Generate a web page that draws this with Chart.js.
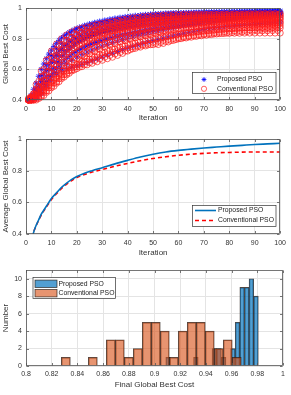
<!DOCTYPE html>
<html>
<head>
<meta charset="utf-8">
<script src="https://cdn.jsdelivr.net/npm/chart.js@4.4.1/dist/chart.umd.min.js"></script>
<style>
  html, body { margin: 0; padding: 0; background: #fff; }
  #wrap { position: relative; width: 291px; height: 395px; }
  #wrap canvas { position: absolute; left: 0; }
</style>
</head>
<body>
<div id="wrap">
  <canvas id="chartRuns" width="291" height="130" style="top:0"></canvas>
  <canvas id="chartAvg" width="291" height="130" style="top:130px"></canvas>
  <canvas id="chartHist" width="291" height="135" style="top:260px"></canvas>
</div>
<script>
// ---- data ----
// iterations at which the runs are sampled
const evenIters = [2,4,6,8,10,12,14,16,18,20,22,24,26,28,30,32,34,36,38,40,42,44,46,48,50,
                   52,54,56,58,60,62,64,66,68,70,72,74,76,78,80,82,84,86,88,90,92,94,96,98,100];
const oddIters = [1,3,5,7,9,11,13,15,17,19,21,23,25,27,29,31,33,35,37,39,41,43,45,47,49,
                  51,53,55,57,59,61,63,65,67,69,71,73,75,77,79,81,83,85,87,89,91,93,95,97,99];

// global best cost per run, proposed PSO (blue *), sampled at evenIters
const propRuns = [
  [.43,.51,.60,.67,.725,.77,.805,.83,.85,.865,.877,.888,.897,.905,.912,.919,.925,.931,.936,.941,.945,.949,.953,.956,.959,.961,.963,.965,.967,.968,.969,.970,.971,.972,.973,.974,.975,.975,.976,.977,.977,.978,.978,.979,.979,.980,.980,.980,.981,.981],
  [.41,.48,.56,.63,.69,.735,.77,.80,.822,.84,.855,.868,.879,.888,.896,.904,.911,.917,.923,.928,.933,.937,.941,.945,.948,.951,.954,.956,.958,.960,.962,.963,.965,.966,.967,.968,.969,.970,.971,.972,.973,.974,.974,.975,.976,.976,.977,.977,.978,.978],
  [.40,.45,.52,.59,.645,.69,.73,.76,.785,.805,.822,.836,.849,.86,.87,.879,.887,.894,.901,.907,.913,.918,.923,.927,.931,.935,.938,.941,.944,.946,.949,.951,.953,.955,.957,.959,.960,.962,.963,.964,.966,.967,.968,.969,.970,.971,.972,.973,.974,.975],
  [.42,.45,.50,.55,.60,.645,.685,.72,.748,.772,.792,.81,.825,.838,.85,.86,.869,.877,.885,.892,.898,.904,.909,.914,.919,.923,.927,.931,.934,.937,.94,.943,.945,.947,.949,.951,.953,.955,.957,.958,.96,.961,.963,.964,.965,.967,.968,.969,.971,.972],
  [.40,.43,.47,.52,.565,.605,.64,.672,.70,.72,.738,.753,.766,.777,.787,.796,.804,.812,.819,.826,.832,.838,.844,.85,.856,.861,.866,.871,.876,.881,.886,.891,.896,.901,.906,.911,.916,.921,.926,.931,.936,.94,.944,.948,.951,.954,.957,.96,.964,.968],
  [.41,.46,.53,.60,.66,.705,.74,.765,.785,.80,.812,.822,.831,.839,.846,.853,.859,.865,.87,.875,.88,.885,.889,.893,.897,.901,.905,.909,.912,.915,.918,.921,.924,.927,.93,.933,.936,.938,.94,.942,.944,.946,.948,.95,.952,.954,.956,.958,.961,.964],
  [.40,.42,.45,.49,.53,.57,.605,.635,.66,.68,.698,.714,.728,.741,.753,.764,.775,.785,.795,.804,.813,.822,.83,.838,.846,.853,.86,.866,.872,.878,.884,.889,.894,.899,.904,.908,.912,.916,.92,.924,.927,.93,.933,.936,.938,.94,.942,.944,.947,.95],
  [.40,.41,.44,.50,.555,.575,.59,.603,.614,.624,.634,.645,.657,.669,.681,.693,.705,.717,.729,.74,.75,.76,.77,.78,.788,.796,.804,.812,.82,.828,.836,.843,.849,.855,.861,.866,.871,.875,.879,.883,.886,.889,.892,.895,.898,.90,.902,.905,.908,.91]
];
// more proposed runs, sampled at oddIters
const propRunsOdd = [
  [.40,.47,.555,.635,.70,.75,.79,.82,.842,.86,.874,.886,.896,.905,.913,.92,.927,.933,.938,.943,.947,.951,.954,.957,.96,.962,.964,.966,.967,.968,.969,.97,.971,.972,.973,.974,.975,.975,.976,.976,.977,.977,.978,.978,.978,.979,.979,.979,.98,.98],
  [.41,.44,.50,.57,.63,.68,.72,.755,.784,.808,.828,.845,.859,.871,.882,.891,.899,.906,.912,.918,.923,.928,.932,.936,.94,.943,.946,.949,.951,.953,.955,.957,.959,.96,.962,.963,.964,.965,.966,.967,.968,.969,.97,.971,.972,.973,.974,.975,.975,.976],
  [.40,.42,.46,.51,.56,.61,.655,.695,.73,.758,.782,.802,.819,.834,.847,.858,.868,.877,.885,.892,.899,.905,.911,.916,.921,.925,.929,.933,.936,.939,.942,.945,.947,.949,.951,.953,.955,.957,.959,.961,.962,.964,.965,.966,.967,.968,.969,.97,.972,.973],
  [.40,.41,.44,.48,.53,.58,.62,.655,.685,.71,.73,.748,.763,.776,.788,.799,.809,.818,.826,.834,.841,.848,.855,.861,.867,.873,.878,.883,.888,.893,.898,.903,.908,.913,.918,.923,.928,.932,.936,.94,.944,.947,.95,.953,.956,.959,.962,.965,.968,.97],
  [.40,.43,.48,.54,.60,.65,.69,.722,.748,.768,.785,.799,.811,.822,.832,.841,.849,.856,.863,.869,.875,.88,.885,.89,.894,.898,.902,.906,.909,.912,.915,.918,.921,.924,.927,.929,.931,.933,.935,.937,.939,.941,.943,.945,.947,.949,.951,.953,.956,.958]
];

// global best cost per run, conventional PSO (red o), sampled at evenIters
const convRuns = [
  [.42,.50,.59,.66,.72,.765,.80,.825,.845,.86,.87,.878,.886,.894,.90,.907,.914,.92,.926,.932,.937,.941,.945,.948,.951,.953,.955,.957,.958,.959,.96,.96,.961,.961,.962,.962,.963,.963,.963,.964,.964,.964,.964,.965,.965,.965,.965,.965,.965,.965],
  [.41,.47,.55,.62,.68,.725,.76,.79,.81,.828,.842,.854,.864,.873,.881,.888,.895,.901,.907,.912,.917,.921,.925,.929,.932,.935,.938,.94,.942,.944,.946,.947,.948,.949,.95,.951,.952,.952,.953,.953,.954,.954,.954,.955,.955,.955,.955,.955,.955,.955],
  [.40,.45,.52,.58,.64,.69,.73,.76,.785,.805,.82,.833,.845,.855,.864,.872,.879,.885,.891,.896,.901,.905,.909,.913,.916,.919,.922,.925,.927,.929,.931,.933,.934,.936,.937,.938,.939,.94,.941,.942,.942,.943,.943,.944,.944,.944,.945,.945,.945,.945],
  [.42,.46,.51,.56,.61,.655,.695,.73,.755,.775,.792,.806,.818,.829,.839,.848,.856,.863,.87,.876,.881,.886,.891,.895,.899,.903,.906,.909,.912,.915,.917,.919,.921,.923,.924,.926,.927,.928,.929,.93,.931,.931,.932,.933,.933,.934,.934,.934,.935,.935],
  [.41,.44,.48,.53,.58,.625,.665,.70,.728,.75,.768,.783,.796,.807,.817,.826,.834,.842,.849,.855,.861,.866,.871,.876,.88,.884,.888,.891,.894,.897,.90,.902,.905,.907,.909,.911,.912,.914,.915,.916,.917,.918,.919,.92,.921,.922,.923,.924,.925,.925],
  [.40,.43,.47,.51,.55,.59,.625,.66,.69,.715,.736,.754,.77,.784,.796,.807,.817,.826,.834,.841,.848,.854,.86,.865,.869,.873,.877,.88,.883,.886,.888,.89,.892,.894,.896,.897,.899,.90,.901,.902,.903,.904,.905,.906,.907,.908,.908,.909,.909,.91],
  [.41,.43,.46,.49,.52,.555,.59,.62,.648,.672,.694,.713,.73,.745,.758,.77,.781,.791,.80,.808,.816,.823,.83,.836,.842,.847,.852,.857,.861,.865,.869,.872,.875,.878,.88,.883,.885,.887,.889,.89,.892,.893,.894,.895,.896,.897,.898,.899,.899,.90],
  [.40,.42,.45,.48,.51,.54,.565,.59,.612,.632,.65,.667,.683,.697,.71,.722,.733,.744,.754,.763,.772,.78,.788,.795,.802,.808,.814,.82,.825,.83,.835,.839,.843,.847,.851,.854,.857,.86,.863,.865,.868,.87,.872,.874,.876,.878,.88,.882,.884,.885],
  [.40,.41,.43,.46,.49,.52,.55,.575,.598,.618,.636,.652,.666,.679,.691,.702,.712,.722,.731,.74,.748,.756,.763,.77,.777,.784,.79,.796,.802,.808,.813,.818,.823,.828,.832,.836,.84,.843,.846,.849,.852,.854,.856,.858,.86,.862,.864,.866,.868,.87],
  [.40,.40,.42,.45,.48,.51,.54,.565,.59,.605,.618,.63,.64,.65,.66,.67,.68,.692,.705,.72,.735,.748,.757,.76,.762,.763,.77,.78,.79,.80,.807,.813,.818,.822,.826,.829,.832,.834,.835,.836,.837,.837,.838,.838,.838,.838,.838,.838,.838,.838]
];
// more conventional runs, sampled at oddIters
const convRunsOdd = [
  [.40,.44,.52,.60,.665,.715,.755,.787,.812,.832,.848,.861,.872,.881,.889,.896,.903,.909,.915,.92,.925,.929,.933,.937,.94,.943,.945,.947,.949,.951,.952,.953,.954,.955,.956,.957,.957,.958,.958,.959,.959,.959,.96,.96,.96,.96,.96,.96,.96,.96],
  [.40,.43,.49,.56,.62,.67,.712,.746,.774,.797,.815,.83,.843,.854,.864,.872,.88,.887,.893,.899,.904,.909,.913,.917,.921,.924,.927,.93,.932,.934,.936,.938,.94,.941,.942,.943,.944,.945,.946,.947,.947,.948,.948,.949,.949,.949,.95,.95,.95,.95],
  [.41,.44,.48,.53,.585,.635,.678,.713,.742,.766,.786,.803,.818,.831,.843,.853,.862,.87,.877,.884,.89,.895,.90,.905,.909,.913,.916,.919,.922,.925,.927,.929,.931,.932,.934,.935,.936,.937,.937,.938,.938,.939,.939,.939,.94,.94,.94,.94,.94,.94],
  [.40,.42,.46,.50,.55,.60,.645,.683,.714,.74,.762,.78,.796,.81,.822,.833,.843,.852,.86,.867,.874,.88,.886,.891,.895,.899,.903,.906,.909,.912,.914,.916,.918,.92,.921,.922,.923,.924,.925,.926,.927,.927,.928,.928,.929,.929,.929,.93,.93,.93],
  [.40,.42,.45,.49,.53,.57,.61,.645,.677,.705,.729,.749,.766,.781,.794,.806,.817,.827,.836,.844,.851,.857,.863,.868,.873,.877,.881,.885,.888,.891,.894,.897,.899,.901,.903,.905,.907,.908,.91,.911,.912,.913,.914,.915,.915,.916,.916,.917,.917,.918],
  [.40,.41,.44,.47,.50,.535,.57,.605,.636,.664,.688,.709,.727,.743,.757,.77,.782,.793,.803,.812,.82,.828,.835,.841,.847,.853,.858,.863,.867,.871,.875,.878,.881,.884,.887,.889,.891,.893,.895,.897,.898,.899,.90,.901,.902,.903,.903,.904,.904,.905],
  [.40,.41,.43,.46,.495,.53,.56,.59,.617,.642,.664,.684,.702,.718,.733,.747,.759,.77,.78,.789,.798,.806,.813,.82,.826,.832,.838,.843,.848,.852,.856,.86,.864,.867,.87,.873,.876,.878,.88,.882,.884,.886,.887,.888,.889,.89,.891,.891,.892,.892],
  [.40,.40,.42,.45,.48,.51,.54,.567,.592,.614,.634,.652,.668,.683,.697,.71,.722,.733,.743,.753,.762,.771,.779,.787,.794,.801,.808,.814,.82,.826,.831,.836,.841,.845,.849,.853,.856,.859,.862,.864,.866,.868,.87,.872,.873,.874,.875,.876,.877,.878],
  [.40,.40,.41,.43,.46,.49,.52,.55,.575,.597,.615,.63,.644,.657,.669,.68,.691,.701,.711,.72,.729,.738,.746,.754,.762,.769,.776,.783,.789,.795,.801,.806,.811,.816,.82,.824,.828,.832,.835,.838,.841,.843,.845,.847,.849,.851,.852,.853,.854,.855]
];

// average global best cost over the runs
const avgIters = [2,3,4,5,6,7,8,9,10,12,14,16,18,20,23,26,30,35,40,45,50,55,60,65,70,75,80,85,90,95,100];
const avgProposed = [.33,.41,.455,.49,.525,.55,.575,.60,.625,.66,.695,.722,.745,.763,.784,.80,.819,.843,.865,.886,.904,.918,.928,.936,.943,.949,.955,.96,.965,.969,.973];
const avgConventional = [.33,.41,.453,.487,.52,.546,.57,.594,.618,.654,.688,.715,.738,.756,.776,.791,.808,.828,.846,.863,.877,.888,.897,.904,.909,.913,.915,.917,.918,.918,.918];

// histogram of the final global best cost (bin centres and counts)
const propBins = [.9106,.9142,.9178,.9214,.925,.9286,.9322,.9358,.9394,.943,.9466,.9502,.9538,.9574,.961,.9646,.9682,.9718,.9754,.979];
const propCounts = [1,0,0,0,0,0,1,0,0,0,2,2,1,0,2,5,9,9,10,8];
const convBins = [.831,.838,.845,.852,.859,.866,.873,.880,.887,.894,.901,.908,.915,.922,.929,.936,.943,.950,.957,.964];
const convCounts = [1,0,0,1,0,3,3,1,2,5,5,4,1,4,5,5,4,2,3,1];

// tick labels
const iterTicks = [0,10,20,30,40,50,60,70,80,90,100];
const costTicks = [0.4,0.6,0.8,1];
const finalTicks = [0.8,0.82,0.84,0.86,0.88,0.9,0.92,0.94,0.96,0.98,1];
const numberTicks = [0,2,4,6,8,10];

// ---- styling helpers ----
const FONT = "'Liberation Sans', Arial, Helvetica, sans-serif";
const GRID = '#e4e4e4';
const TXT = '#333';
Chart.defaults.animation = false;
Chart.defaults.font.family = FONT;
Chart.defaults.color = TXT;

const fmt = v => String(Math.round(v * 1000) / 1000);

function xAxis(min, max, ticks, title, height, tickPad, titlePad, show = true) {
  return {
    type: 'linear', min, max, offset: false, display: show,
    grid: { color: GRID, drawTicks: false, offset: false },
    border: { display: false },
    ticks: { font: { size: 7 }, color: TXT, padding: tickPad, maxRotation: 0, autoSkip: false, callback: fmt },
    title: { display: true, text: title, color: TXT, font: { size: 8 }, padding: { top: 0, bottom: titlePad } },
    afterBuildTicks: s => { s.ticks = ticks.map(v => ({ value: v })); },
    afterFit: s => { s.height = height; }
  };
}

function yAxis(min, max, ticks, title) {
  return {
    type: 'linear', min, max,
    grid: { color: GRID, drawTicks: false },
    border: { display: false },
    ticks: { font: { size: 7 }, color: TXT, padding: 4, callback: fmt },
    title: { display: true, text: title, color: TXT, font: { size: 8 }, padding: { top: 1, bottom: 0 } },
    afterBuildTicks: s => { s.ticks = ticks.map(v => ({ value: v })); },
    afterFit: s => { s.width = 26; }
  };
}

// MATLAB-like axes box with inward tick marks
const frame = {
  id: 'frame',
  afterDatasetsDraw(chart) {
    const { ctx, chartArea: a, scales } = chart;
    const L = Math.round(a.left) + 0.5, R = Math.round(a.right) - 0.5;
    const T = Math.round(a.top) + 0.5, B = Math.round(a.bottom) - 0.5;
    ctx.save();
    ctx.strokeStyle = '#555';
    ctx.lineWidth = 0.8;
    ctx.beginPath();
    scales.x.ticks.forEach(t => {
      const px = Math.round(scales.x.getPixelForValue(t.value)) + 0.5;
      ctx.moveTo(px, B); ctx.lineTo(px, B - 2.5);
      ctx.moveTo(px, T); ctx.lineTo(px, T + 2.5);
    });
    scales.y.ticks.forEach(t => {
      const py = Math.round(scales.y.getPixelForValue(t.value)) + 0.5;
      ctx.moveTo(L, py); ctx.lineTo(L + 2.5, py);
      ctx.moveTo(R, py); ctx.lineTo(R - 2.5, py);
    });
    ctx.stroke();
    ctx.strokeRect(L, T, R - L, B - T);
    ctx.restore();
  }
};

// boxed legend placed inside the axes, like MATLAB's
const boxLegend = {
  id: 'boxLegend',
  afterDraw(chart, args, o) {
    if (!o.items) return;
    const ctx = chart.ctx;
    ctx.save();
    ctx.fillStyle = '#fff';
    ctx.fillRect(o.x, o.y, o.w, o.h);
    ctx.strokeStyle = '#333';
    ctx.lineWidth = 0.7;
    ctx.strokeRect(o.x, o.y, o.w, o.h);
    o.items.forEach((it, i) => {
      const ds = chart.data.datasets[it.ds];
      const y = o.rows[i];
      ctx.setLineDash([]);
      if (it.kind === 'star') {
        ctx.strokeStyle = ds.pointBorderColor;
        ctx.lineWidth = ds.pointBorderWidth;
        ctx.beginPath();
        for (let k = 0; k < 4; k++) {
          const c = Math.cos(k * Math.PI / 4) * 2.4, s = Math.sin(k * Math.PI / 4) * 2.4;
          ctx.moveTo(o.mx - c, y - s); ctx.lineTo(o.mx + c, y + s);
        }
        ctx.stroke();
      } else if (it.kind === 'circle') {
        ctx.strokeStyle = ds.pointBorderColor;
        ctx.lineWidth = ds.pointBorderWidth;
        ctx.beginPath();
        ctx.arc(o.mx, y, 2.6, 0, Math.PI * 2);
        ctx.stroke();
      } else if (it.kind === 'line') {
        ctx.strokeStyle = ds.borderColor;
        ctx.lineWidth = ds.borderWidth;
        ctx.setLineDash(ds.borderDash || []);
        ctx.beginPath();
        ctx.moveTo(o.lx0, y); ctx.lineTo(o.lx1, y);
        ctx.stroke();
      } else if (it.kind === 'patch') {
        ctx.fillStyle = ds.backgroundColor;
        ctx.fillRect(o.lx0, y - 3.7, o.lx1 - o.lx0, 7.4);
        ctx.strokeStyle = ds.borderColor;
        ctx.lineWidth = 0.8;
        ctx.strokeRect(o.lx0, y - 3.7, o.lx1 - o.lx0, 7.4);
      }
      ctx.setLineDash([]);
      ctx.fillStyle = '#222';
      ctx.font = '6.8px ' + FONT;
      ctx.textBaseline = 'middle';
      ctx.fillText(ds.label, o.tx, y);
    });
    ctx.restore();
  }
};

// ---- chart 1: global best cost of every run ----
// red circles are drawn over the blue stars (lower order = drawn later)
const propStyle = {
  label: 'Proposed PSO', pointStyle: 'star', pointRadius: 3,
  pointBorderColor: '#0000ff', pointBackgroundColor: '#0000ff', pointBorderWidth: 0.8,
  order: 1, clip: 4
};
const convStyle = {
  label: 'Conventional PSO', pointStyle: 'circle', pointRadius: 3.1,
  pointBorderColor: '#ff1a1a', pointBackgroundColor: 'rgba(0,0,0,0)', pointBorderWidth: 0.7,
  order: 0, clip: 4
};
const toPoints = (iters, run) => run.map((v, i) => ({ x: iters[i], y: v }));

const runSets = [];
propRuns.forEach(run => runSets.push({ ...propStyle, data: toPoints(evenIters, run) }));
propRunsOdd.forEach(run => runSets.push({ ...propStyle, data: toPoints(oddIters, run) }));
const firstConv = runSets.length;
convRuns.forEach(run => runSets.push({ ...convStyle, data: toPoints(evenIters, run) }));
convRunsOdd.forEach(run => runSets.push({ ...convStyle, data: toPoints(oddIters, run) }));

new Chart(document.getElementById('chartRuns'), {
  type: 'scatter',
  data: { datasets: runSets },
  options: {
    responsive: false,
    layout: { padding: { top: 6, right: 8, left: 0, bottom: 0 } },
    scales: {
      x: xAxis(0, 100, iterTicks, 'Iteration', 30, 5, 7),
      y: yAxis(0.4, 1, costTicks, 'Global Best Cost')
    },
    plugins: {
      legend: { display: false },
      tooltip: { enabled: false },
      boxLegend: {
        x: 192.5, y: 72.5, w: 83.5, h: 21, mx: 204, tx: 217, rows: [79.5, 88.8],
        items: [{ ds: 0, kind: 'star' }, { ds: firstConv, kind: 'circle' }]
      }
    }
  },
  plugins: [frame, boxLegend]
});

// ---- chart 2: average global best cost ----
new Chart(document.getElementById('chartAvg'), {
  type: 'line',
  data: {
    datasets: [
      {
        label: 'Proposed PSO',
        data: toPoints(avgIters, avgProposed),
        borderColor: '#0072bd', borderWidth: 1.6, pointRadius: 0,
        cubicInterpolationMode: 'monotone'
      },
      {
        label: 'Conventional PSO',
        data: toPoints(avgIters, avgConventional),
        borderColor: '#ff0000', borderWidth: 1.6, borderDash: [4, 3], pointRadius: 0,
        cubicInterpolationMode: 'monotone'
      }
    ]
  },
  options: {
    responsive: false,
    layout: { padding: { top: 9, right: 8, left: 0, bottom: 0 } },
    scales: {
      x: xAxis(0, 100, iterTicks, 'Iteration', 26, 5, 2),
      y: yAxis(0.4, 1, costTicks, 'Average Global Best Cost')
    },
    plugins: {
      legend: { display: false },
      tooltip: { enabled: false },
      boxLegend: {
        x: 192.5, y: 75.5, w: 83.5, h: 21, lx0: 195, lx1: 216, tx: 218, rows: [80.5, 90.5],
        items: [{ ds: 0, kind: 'line' }, { ds: 1, kind: 'line' }]
      }
    }
  },
  plugins: [frame, boxLegend]
});

// ---- chart 3: histogram of the final global best cost ----
new Chart(document.getElementById('chartHist'), {
  type: 'bar',
  data: {
    datasets: [
      {
        label: 'Proposed PSO',
        data: toPoints(propBins, propCounts),
        backgroundColor: 'rgba(0,114,189,0.68)', borderColor: 'rgba(35,25,20,0.8)', borderWidth: 0.8,
        barPercentage: 1, categoryPercentage: 1, grouped: false, order: 2, xAxisID: 'x'
      },
      {
        label: 'Conventional PSO',
        data: toPoints(convBins, convCounts),
        backgroundColor: 'rgba(217,83,25,0.62)', borderColor: 'rgba(35,25,20,0.8)', borderWidth: 0.8,
        barPercentage: 1, categoryPercentage: 1, grouped: false, order: 1, xAxisID: 'x2'
      }
    ]
  },
  options: {
    responsive: false,
    layout: { padding: { top: 10, right: 8, left: 0, bottom: 0 } },
    scales: {
      x: xAxis(0.8, 1, finalTicks, 'Final Global Best Cost', 29, 4, 5),
      x2: xAxis(0.8, 1, finalTicks, '', 0, 0, 0, false),
      y: yAxis(0, 11, numberTicks, 'Number')
    },
    plugins: {
      legend: { display: false },
      tooltip: { enabled: false },
      boxLegend: {
        x: 33, y: 17.5, w: 82.5, h: 21, lx0: 35, lx1: 57, tx: 58.5, rows: [23.8, 33.2],
        items: [{ ds: 0, kind: 'patch' }, { ds: 1, kind: 'patch' }]
      }
    }
  },
  plugins: [frame, boxLegend]
});
</script>
</body>
</html>
